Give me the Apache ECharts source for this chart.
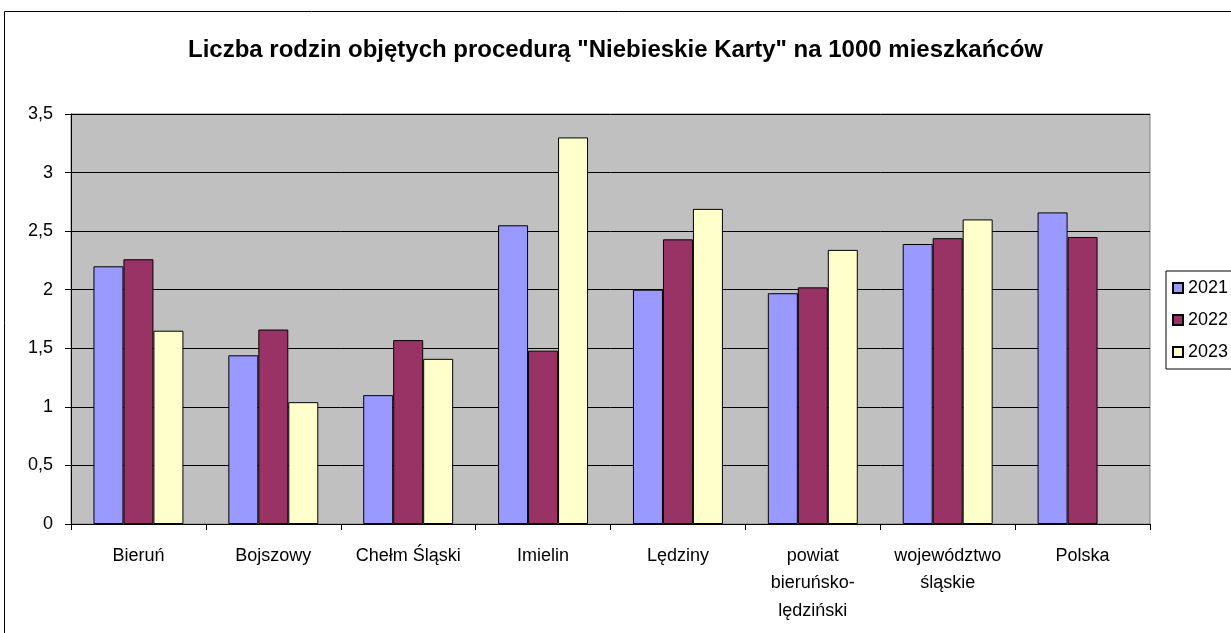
<!DOCTYPE html>
<html><head><meta charset="utf-8">
<script src="https://cdn.jsdelivr.net/npm/echarts@6/dist/echarts.min.js"></script>
<style>html,body{margin:0;padding:0;background:#fff}#c{width:1231px;height:633px}</style>
</head><body><div id="c"></div>
<script>
const categories = ["Bieruń","Bojszowy","Chełm Śląski","Imielin","Lędziny","powiat\nbieruńsko-\nlędziński","województwo\nśląskie","Polska"];
const years = ["2021","2022","2023"];
const v2021 = [2.2, 1.44, 1.1, 2.55, 2.0, 1.97, 2.39, 2.66];
const v2022 = [2.26, 1.66, 1.57, 1.48, 2.43, 2.02, 2.44, 2.45];
const v2023 = [1.65, 1.04, 1.41, 3.3, 2.69, 2.34, 2.6, null];
const colors = ["#9999FF", "#993366", "#FFFFCC"];

const chart = echarts.init(document.getElementById('c'), null, {renderer:'canvas'});
const font = "Liberation Sans, Arial, sans-serif";
chart.setOption({
  animation:false,
  backgroundColor:'#fff',
  textStyle:{fontFamily:font},
  title:{text:'Liczba rodzin objętych procedurą "Niebieskie Karty" na 1000 mieszkańców',
    left:'center', top:33, textStyle:{fontFamily:font,fontSize:24,fontWeight:'bold',color:'#000'}},
  graphic:[{type:'rect',shape:{x:4.5,y:11.5,width:1300,height:700},style:{fill:'none',stroke:'#000',lineWidth:1},silent:true}],
  legend:{orient:'vertical', left:1166, top:271, itemGap:14, itemWidth:10, itemHeight:10, icon:'rect',
    padding:[8,10,8,6], borderColor:'#000', borderWidth:1, backgroundColor:'#fff',
    textStyle:{fontFamily:font,fontSize:18,color:'#000'}, data:years},
  grid:{left:71, right:81, top:114, bottom:109, show:true, backgroundColor:'#C0C0C0', borderColor:'#808080', borderWidth:1},
  xAxis:{type:'category', data:categories,
    axisLine:{lineStyle:{color:'#000',width:1}},
    axisTick:{show:true, length:6, lineStyle:{color:'#000'}},
    axisLabel:{color:'#000', fontSize:18, fontFamily:font, margin:18, lineHeight:27.5, interval:0}},
  yAxis:{type:'value', min:0, max:3.5, interval:0.5,
    axisLine:{show:true, lineStyle:{color:'#000',width:1}},
    axisTick:{show:true, length:6, lineStyle:{color:'#000'}},
    splitLine:{lineStyle:{color:'#000',width:1}},
    axisLabel:{color:'#000', fontSize:18, fontFamily:font, margin:18,
      formatter:v=>String(v).replace('.',',')}},
  series:[v2021,v2022,v2023].map((d,i)=>({
    name:years[i], type:'bar', data:d, barGap:'0%', barCategoryGap:'33.3%',
    itemStyle:{color:colors[i], borderColor:'#000', borderWidth:1}
  }))
});
</script></body></html>
